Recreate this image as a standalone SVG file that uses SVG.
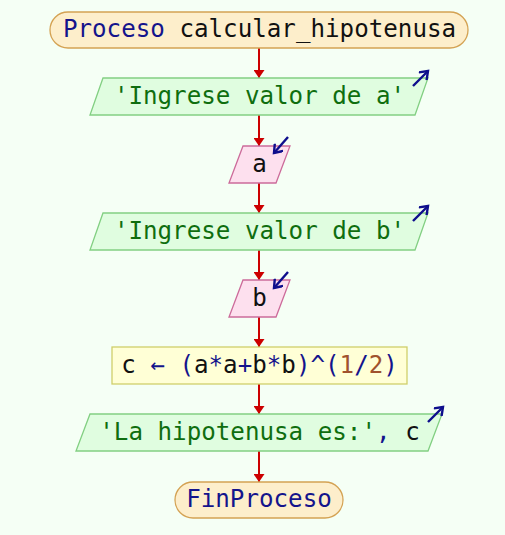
<svg xmlns="http://www.w3.org/2000/svg" width="505" height="535" viewBox="0 0 505 535">
<defs>
<style>
.t{font-family:"DejaVu Sans Mono","Liberation Mono",monospace;font-size:24.2px;text-anchor:middle}
.term{fill:#fdeecb;stroke:#d4a253;stroke-width:1.3}
.out{fill:#e0fde0;stroke:#82cf82;stroke-width:1.3}
.inp{fill:#fde0ee;stroke:#cc6b9a;stroke-width:1.3}
.proc{fill:#ffffd6;stroke:#cfcf6a;stroke-width:1.3}
.kw{fill:#14148c}
.str{fill:#0f6e0f}
.num{fill:#a0522d}
.id{fill:#111111}
.edge{stroke:#cc0000;stroke-width:2;fill:none}
.icon{stroke:#0e0e8c;stroke-width:2.4;fill:none}
</style>
<marker id="ah" markerWidth="8" markerHeight="11" refX="8" refY="5.5" orient="auto" markerUnits="userSpaceOnUse">
<path d="M0,0 L8,5.5 L0,11 Z" fill="#cc0000"/>
</marker>
<marker id="ic" markerWidth="12" markerHeight="12" refX="9" refY="6" orient="auto" markerUnits="userSpaceOnUse">
<path d="M1.5,0.5 L9,6 L1.5,11.5" fill="none" stroke="#0e0e8c" stroke-width="2.4"/>
</marker>
</defs>
<rect width="505" height="535" fill="#f5fff5"/>
<g id="connectors">
<line class="edge" x1="259" y1="48" x2="259" y2="78" marker-end="url(#ah)"/>
<line class="edge" x1="259" y1="115" x2="259" y2="146" marker-end="url(#ah)"/>
<line class="edge" x1="259" y1="183" x2="259" y2="213" marker-end="url(#ah)"/>
<line class="edge" x1="259" y1="250" x2="259" y2="280" marker-end="url(#ah)"/>
<line class="edge" x1="259" y1="317" x2="259" y2="347" marker-end="url(#ah)"/>
<line class="edge" x1="259" y1="384" x2="259" y2="414" marker-end="url(#ah)"/>
<line class="edge" x1="259" y1="451" x2="259" y2="482" marker-end="url(#ah)"/>
</g>
<g id="start">
<rect class="term" x="50" y="12" width="418" height="36" rx="18"/>
<text class="t" x="259.5" y="37"><tspan class="kw">Proceso</tspan><tspan class="id"> calcular_hipotenusa</tspan></text>
</g>
<g id="out1">
<polygon class="out" points="103,78 428,78 415,115 90,115"/>
<text class="t str" x="259.5" y="104">'Ingrese valor de a'</text>
<line class="icon" x1="413" y1="86" x2="428" y2="71" marker-end="url(#ic)"/>
</g>
<g id="in1">
<polygon class="inp" points="243,146 290,146 276,183 229,183"/>
<text class="t id" x="259.5" y="172">a</text>
<line class="icon" x1="288" y1="137" x2="274" y2="153" marker-end="url(#ic)"/>
</g>
<g id="out2">
<polygon class="out" points="103,213 428,213 415,250 90,250"/>
<text class="t str" x="259.5" y="239">'Ingrese valor de b'</text>
<line class="icon" x1="413" y1="221" x2="428" y2="206" marker-end="url(#ic)"/>
</g>
<g id="in2">
<polygon class="inp" points="243,280 290,280 276,317 229,317"/>
<text class="t id" x="259.5" y="306">b</text>
<line class="icon" x1="288" y1="272" x2="274" y2="288" marker-end="url(#ic)"/>
</g>
<g id="proc">
<rect class="proc" x="112" y="347" width="295" height="37"/>
<text class="t" x="259.5" y="373"><tspan class="id">c </tspan><tspan class="kw">← (</tspan><tspan class="id">a</tspan><tspan class="kw">*</tspan><tspan class="id">a</tspan><tspan class="kw">+</tspan><tspan class="id">b</tspan><tspan class="kw">*</tspan><tspan class="id">b</tspan><tspan class="kw">)^(</tspan><tspan class="num">1</tspan><tspan class="kw">/</tspan><tspan class="num">2</tspan><tspan class="kw">)</tspan></text>
</g>
<g id="out3">
<polygon class="out" points="90,414 442,414 428,451 76,451"/>
<text class="t" x="259.5" y="440"><tspan class="str">'La hipotenusa es:'</tspan><tspan class="kw">, </tspan><tspan class="id">c</tspan></text>
<line class="icon" x1="428" y1="422" x2="443" y2="407" marker-end="url(#ic)"/>
</g>
<g id="end">
<rect class="term" x="175" y="482" width="168" height="36" rx="18"/>
<text class="t kw" x="259" y="507">FinProceso</text>
</g>
</svg>
